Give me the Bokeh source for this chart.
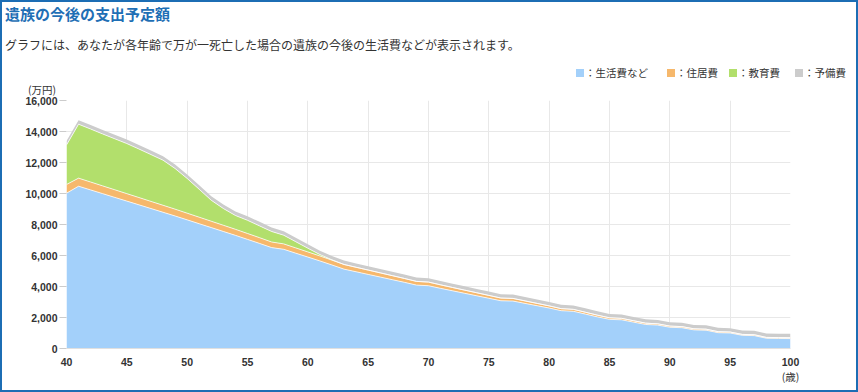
from bokeh.plotting import figure
from bokeh.layouts import column
from bokeh.models import (Range1d, FixedTicker, NumeralTickFormatter, Div,
                          ColumnDataSource, LinearAxis)
from bokeh.transform import stack
from bokeh.embed import file_html
from bokeh.resources import INLINE

ages = list(range(40, 101))
living = [10020, 10470, 10230, 9990, 9750, 9510, 9270, 9030, 8790, 8550,
          8300, 8050, 7800, 7550, 7300, 7040, 6780, 6510, 6400, 6150,
          5900, 5650, 5390, 5120, 4950, 4780, 4610, 4440, 4270, 4090,
          4050, 3880, 3720, 3560, 3400, 3240, 3080, 3060, 2910, 2760,
          2610, 2440, 2400, 2220, 2040, 1880, 1850, 1700, 1550, 1510,
          1370, 1340, 1200, 1180, 1020, 1000, 850, 830, 660, 650,
          640]
housing = [560, 520, 510, 500, 490, 480, 470, 460, 450, 440,
           430, 420, 410, 400, 390, 380, 370, 360, 350, 340,
           330, 320, 310, 300, 290, 280, 270, 260, 250, 240,
           235, 225, 215, 205, 195, 185, 175, 170, 160, 150,
           140, 130, 125, 120, 110, 100, 95, 90, 85, 80,
           75, 72, 70, 68, 65, 62, 60, 58, 55, 55,
           55]
education = [2550, 3480, 3420, 3350, 3290, 3230, 3130, 3020, 2910, 2620,
             2240, 1800, 1350, 1080, 890, 850, 760, 680, 560, 400,
             240, 90, 20, 0, 0, 0, 0, 0, 0, 0,
             0, 0, 0, 0, 0, 0, 0, 0, 0, 0,
             0, 0, 0, 0, 0, 0, 0, 0, 0, 0,
             0, 0, 0, 0, 0, 0, 0, 0, 0, 0,
             0]
reserve = [250, 260, 260, 260, 260, 260, 260, 260, 260, 260,
           260, 260, 260, 260, 260, 260, 260, 260, 260, 260,
           250, 250, 250, 250, 250, 250, 250, 250, 250, 250,
           250, 250, 250, 250, 250, 250, 250, 250, 250, 250,
           250, 250, 250, 250, 250, 250, 250, 250, 250, 250,
           250, 250, 250, 250, 250, 250, 250, 250, 250, 250,
           250]
series_keys = ["living", "housing", "education", "reserve"]
series_names = ["生活費など", "住居費", "教育費", "予備費"]
colors = ["#a3d0fa", "#f6b86c", "#b2df6c", "#cccccc"]
x_ticks = [40, 45, 50, 55, 60, 65, 70, 75, 80, 85, 90, 95, 100]
y_ticks = [0, 2000, 4000, 6000, 8000, 10000, 12000, 14000, 16000]

title_text = "遺族の今後の支出予定額"
subtitle_text = "グラフには、あなたが各年齢で万が一死亡した場合の遺族の今後の生活費などが表示されます。"
y_unit = "(万円)"
x_unit = "(歳)"

JP = "Noto Sans CJK JP"
NUM = "Liberation Sans"
BORDER = "2px solid #1c6db4"
W = 858
HH = 95
MH = 297

# ---------------- header (title, subtitle, legend, unit) ----------------
parts = []


def txt(text, px, py, size, color="#333333", weight="normal"):
    # page coords (left edge, vertical centre) -> header content coords
    top = (py - 2) - 0.56 * size
    parts.append(
        f'<div style="position:absolute;left:{px - 2}px;top:{top:.1f}px;font-size:{size}px;'
        f'line-height:1;white-space:nowrap;color:{color};font-weight:{weight};'
        f'font-family:\'{JP}\';">{text}</div>')


def square(px, py, color):
    parts.append(
        f'<div style="position:absolute;left:{px - 2}px;top:{py - 2}px;width:8px;height:8px;'
        f'background:{color};"></div>')


txt(title_text, 5, 14, 15, color="#1f6fb5", weight="bold")
txt(subtitle_text, 5, 46, 12)
txt(y_unit, 28, 90.5, 10.5)
sq_left = [576, 667, 729, 795]
txt_left = [585, 676, 738, 804]
for i in range(4):
    square(sq_left[i], 69, colors[i])
    txt("：" + series_names[i], txt_left[i], 73.5, 10.5)

html = ('<div style="position:relative;width:854px;height:93px;overflow:visible;">'
        + "".join(parts) + '</div>')
header = Div(text=html, width=W, height=HH, margin=0,
             styles={"border-top": BORDER, "border-left": BORDER, "border-right": BORDER})

# ---------------- main chart ----------------
src = ColumnDataSource(dict(age=ages, living=living, housing=housing,
                            education=education, reserve=reserve))

p = figure(width=W, height=MH, output_backend="svg", toolbar_location=None,
           x_range=Range1d(40, 100), y_range=Range1d(0, 16000),
           min_border_left=64, min_border_right=70, min_border_top=5, min_border_bottom=44)
p.styles = {"border-bottom": BORDER, "border-left": BORDER, "border-right": BORDER}
p.outline_line_color = None

p.varea_stack(stackers=series_keys, x="age", color=colors, source=src)
for i in range(3):
    p.line(x="age", y=stack(*series_keys[:i + 1]), source=src,
           line_color="white", line_alpha=0.75, line_width=1)

p.xaxis.ticker = FixedTicker(ticks=x_ticks)
p.yaxis.ticker = FixedTicker(ticks=y_ticks)
p.yaxis.formatter = NumeralTickFormatter(format="0,0")
for ax in (p.xaxis, p.yaxis):
    ax.major_label_text_font = NUM
    ax.major_label_text_font_size = "10.5px"
    ax.major_label_text_font_style = "bold"
    ax.major_label_text_color = "#333333"
    ax.minor_tick_line_color = None
    ax.major_tick_in = 0
p.yaxis.axis_line_color = None
p.yaxis.major_tick_out = 7
p.yaxis.major_tick_line_color = "#cccccc"
p.yaxis.major_label_standoff = 2
p.xaxis.axis_line_color = "#e0e0e0"
p.xaxis.major_tick_out = 0
p.xaxis.major_tick_line_color = None
p.xaxis.major_label_standoff = 9
p.grid.grid_line_color = "#e8e8e8"

unit_axis = LinearAxis(ticker=FixedTicker(ticks=[100]), major_label_overrides={100: x_unit},
                       axis_line_color=None, major_tick_line_color=None, minor_tick_line_color=None,
                       major_tick_in=0, major_tick_out=0, major_label_standoff=0,
                       major_label_text_font=JP, major_label_text_font_size="10.5px",
                       major_label_text_color="#333333")
p.add_layout(unit_axis, "below")

layout = column(header, p, spacing=0)
open("out.html", "w").write(file_html(layout, INLINE))
